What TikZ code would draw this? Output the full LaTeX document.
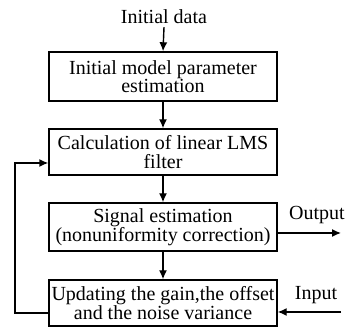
\documentclass[tikz,border=0pt]{standalone}
\usepackage{fontspec}
\setmainfont{Liberation Serif}
\usetikzlibrary{arrows.meta}
\begin{document}
\begin{tikzpicture}[x=1pt,y=1pt,
  box/.style={draw,line width=1.4pt,minimum width=228pt,align=center,inner sep=0pt,font=\fontsize{20}{18.5}\selectfont},
  lbl/.style={font=\fontsize{20}{18.5}\selectfont,inner sep=0pt},
  arr/.style={line width=1.4pt,-{Latex[length=9pt,width=8pt]}}]
\useasboundingbox (0,0) rectangle (346,331);
\node[lbl] (init) at (164,314) {Initial data};
\node[box,minimum height=49pt] (b1) at (163,254.5) {Initial model parameter\\estimation};
\node[box,minimum height=46pt] (b2) at (163,179) {Calculation of linear LMS\\filter};
\node[box,minimum height=48pt] (b3) at (163,104) {Signal estimation\\(nonuniformity correction)};
\node[box,minimum height=46pt] (b4) at (163,28) {Updating the gain,the offset\\and the noise variance};
\node[lbl] (out) at (317,116) {Output};
\node[lbl] (in) at (316,36) {Input};
\coordinate (oe) at (341,98);
\coordinate (ie) at (341,19);
\coordinate (f1) at (15,18);
\coordinate (f2) at (15,168);
\draw[arr] (init.south) ++(0,-3) -- (b1.north);
\draw[arr] (b1) -- (b2);
\draw[arr] (b2) -- (b3);
\draw[arr] (b3) -- (b4);
\draw[arr] (b3.east |- oe) -- (oe);
\draw[arr] (ie) -- (b4.east |- ie);
\draw[arr] (b4.west |- f1) -- (f1) -- (f2) -- (b2.west |- f2);
\end{tikzpicture}
\end{document}
